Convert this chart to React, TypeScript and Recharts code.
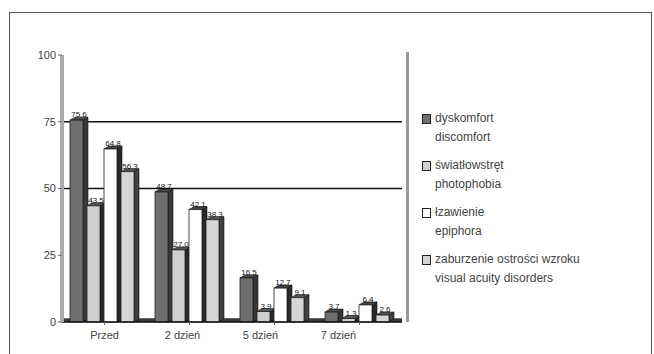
import React from "react";
import {
  Bar,
  BarChart,
  CartesianGrid,
  LabelList,
  ReferenceArea,
  XAxis,
  YAxis,
} from "recharts";

// Symptom share (%) at each check-up
const days = ["Przed", "2 dzień", "5 dzień", "7 dzień"];
const discomfort = [75.6, 48.7, 16.5, 3.7];
const photophobia = [43.5, 27.0, 3.9, 1.3];
const epiphora = [64.8, 42.1, 12.7, 6.4];
const visualAcuity = [56.3, 38.3, 9.1, 2.6];

const yTicks = [0, 25, 50, 75, 100];

const seriesNames = [
  ["dyskomfort", "discomfort"],
  ["światłowstręt", "photophobia"],
  ["łzawienie", "epiphora"],
  ["zaburzenie ostrości wzroku", "visual acuity disorders"],
];

const rows = days.map((day, i) => ({
  day,
  discomfort: discomfort[i],
  photophobia: photophobia[i],
  epiphora: epiphora[i],
  visualAcuity: visualAcuity[i],
}));

const keys = ["discomfort", "photophobia", "epiphora", "visualAcuity"];

const FONT = "'Liberation Sans', Arial, sans-serif";

const palette = [
  { front: "#6f6f6f", side: "#383838", top: "#4a4a4a" },
  { front: "#cfcfcf", side: "#2a2a2a", top: "#555" },
  { front: "#ffffff", side: "#2a2a2a", top: "#444" },
  { front: "#d6d6d6", side: "#404040", top: "#555" },
];

// Excel-style 3D column: front face, right side and top
function boxShape(idx: number) {
  return (props: any) => {
    const { x, y, width, height } = props;
    if (height == null || height <= 0) return <g />;
    const c = palette[idx];
    const d = 5;
    const up = 3;
    const fw = width - d;
    return (
      <g>
        <polygon
          points={`${x + fw},${y} ${x + width},${y - up} ${x + width},${y + height - up} ${x + fw},${y + height}`}
          fill={c.side}
          stroke="#111"
          strokeWidth={0.6}
        />
        <polygon
          points={`${x},${y} ${x + d},${y - up} ${x + width},${y - up} ${x + fw},${y}`}
          fill={c.top}
          stroke="#111"
          strokeWidth={0.6}
        />
        <rect
          x={x}
          y={y}
          width={fw}
          height={height}
          fill={c.front}
          stroke="#222"
          strokeWidth={0.8}
        />
      </g>
    );
  };
}

function DayTick(props: any) {
  const { x, y, payload, index } = props;
  return (
    <text
      x={x - index * 7}
      y={y + 12}
      textAnchor="middle"
      fontSize={11}
      fontFamily={FONT}
      fill="#444"
    >
      {payload.value}
    </text>
  );
}

function LegendBox() {
  return (
    <div
      style={{
        position: "absolute",
        left: 422,
        top: 109,
        fontFamily: FONT,
        fontSize: 12,
        color: "#444",
        lineHeight: "19px",
      }}
    >
      {seriesNames.map(([pl, en], i) => (
        <div key={pl} style={{ marginBottom: 9 }}>
          <div style={{ display: "flex", alignItems: "center" }}>
            <span
              style={{
                display: "inline-block",
                width: 7,
                height: 8,
                background: palette[i].front,
                border: "1px solid #222",
                marginRight: 4,
              }}
            />
            {pl}
          </div>
          <div style={{ paddingLeft: 13 }}>{en}</div>
        </div>
      ))}
    </div>
  );
}

export default function App() {
  return (
    <div
      style={{
        position: "absolute",
        left: 0,
        top: 0,
        width: 654,
        height: 354,
        background: "#fff",
        overflow: "hidden",
      }}
    >
      <div
        style={{
          position: "absolute",
          left: 9,
          top: 12,
          width: 641,
          height: 360,
          border: "1px solid #555",
        }}
      />
      <BarChart
        width={654}
        height={354}
        data={rows}
        margin={{ top: 55, right: 252, bottom: 12, left: 12 }}
        barCategoryGap={8}
        barGap={-1}
        style={{ position: "absolute", left: 0, top: 0 }}
      >
        <CartesianGrid
          vertical={false}
          horizontalValues={[50, 75]}
          stroke="#111"
          strokeWidth={1.6}
        />
        <ReferenceArea y1={0} y2={1.4} fill="#3a3a3a" fillOpacity={1} stroke="none" />
        <XAxis
          dataKey="day"
          tick={<DayTick />}
          axisLine={{ stroke: "#111", strokeWidth: 1.5 }}
          tickLine={{ stroke: "#666" }}
          tickSize={3}
          height={20}
          interval={0}
        />
        <YAxis
          domain={[0, 100]}
          ticks={yTicks}
          width={50}
          tick={{ fontSize: 11, fontFamily: FONT, fill: "#444" }}
          axisLine={{ stroke: "#aaa", strokeWidth: 4 }}
          tickLine={{ stroke: "#666" }}
          tickSize={4}
        />
        {keys.map((k, i) => (
          <Bar
            key={k}
            dataKey={k}
            name={seriesNames[i][0]}
            fill="#111"
            shape={boxShape(i)}
            isAnimationActive={false}
          >
            <LabelList
              dataKey={k}
              position="top"
              offset={3}
              fontSize={8}
              fontFamily={FONT}
              fill="#111"
              formatter={(v: any) => Number(v).toFixed(1)}
            />
          </Bar>
        ))}
      </BarChart>
      <div
        style={{
          position: "absolute",
          left: 406,
          top: 52,
          width: 3,
          height: 270,
          background: "#999",
        }}
      />
      <LegendBox />
    </div>
  );
}
